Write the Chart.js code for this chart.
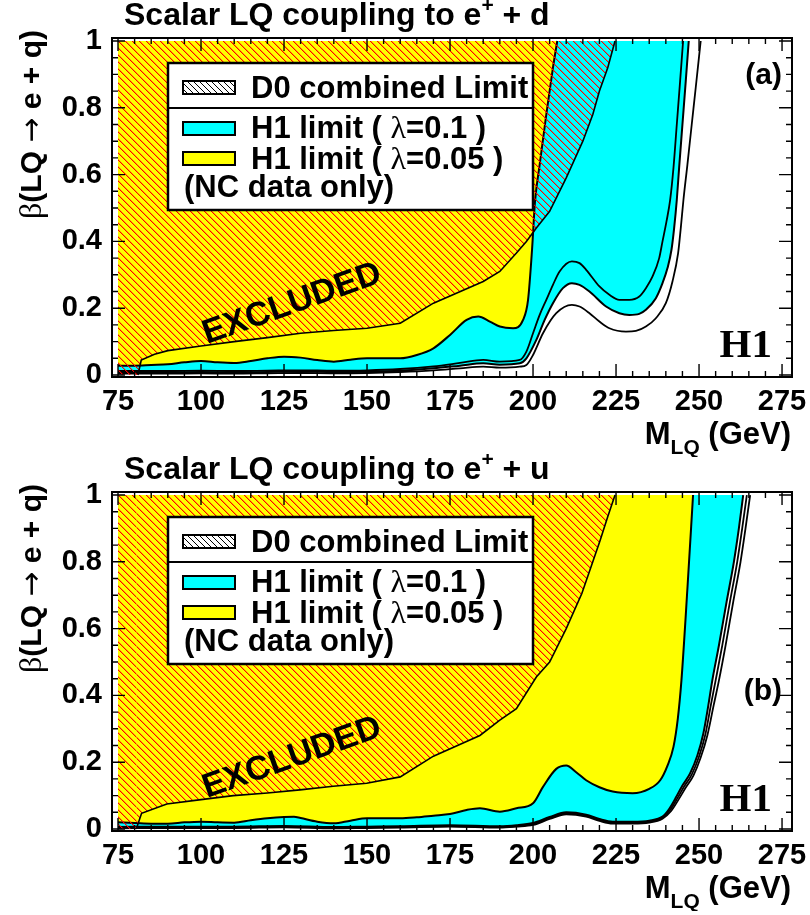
<!DOCTYPE html>
<html><head><meta charset="utf-8">
<script src="https://cdn.jsdelivr.net/npm/chart.js@4.4.1/dist/chart.umd.min.js"></script>
<style>
html,body{margin:0;padding:0;background:#fff;}
#wrap{position:relative;width:810px;height:915px;overflow:hidden;background:#fff;}
canvas{position:absolute;left:0;}
#ca{top:0}
#cb{top:454px}
</style></head><body>
<div id="wrap"><canvas id="ca" width="810" height="457"></canvas><canvas id="cb" width="810" height="457"></canvas></div>
<script>
// ---- axis ticks ----
const xTicks=[75,100,125,150,175,200,225,250,275];
const yTicks=[0,0.2,0.4,0.6,0.8,1];
const yTickLabels=['0','0.2','0.4','0.6','0.8','1'];

// ---- panel (a): e+ + d ----
const aD0M=[75,81,82,86,90,100,110,120,130,140,150,160,170,185,190,195,198,201,205,210,215,218,220,222.5,224.7];
const aD0B=[0,0,0.045,0.062,0.073,0.087,0.1,0.112,0.125,0.133,0.14,0.155,0.215,0.28,0.31,0.365,0.4,0.44,0.49,0.59,0.70,0.78,0.85,0.92,1.0];
const aYelM=[75,80,85,90,95,100,105,110,115,120,125,130,135,140,145,150,155,160,165,170,175,180,183.5,187,190,194,197,198.5,199.7,200.6,202,204,206,207.3];
const aYelB=[0.028,0.028,0.03,0.032,0.038,0.042,0.038,0.036,0.042,0.05,0.055,0.052,0.045,0.04,0.046,0.05,0.05,0.05,0.06,0.08,0.12,0.165,0.175,0.16,0.145,0.14,0.165,0.225,0.375,0.52,0.63,0.78,0.92,1.0];
const aCyM=[75,90,100,110,120,130,140,150,160,170,178,185,190,196,198,201,203.5,206,209,211.7,214,217,222,226,229,232,234,237,239,240.5,241.7,242.5,243.3,244,245,246,246.9];
const aCyB=[0.008,0.008,0.009,0.008,0.009,0.01,0.009,0.01,0.013,0.02,0.028,0.035,0.031,0.035,0.05,0.105,0.165,0.215,0.26,0.275,0.27,0.25,0.205,0.185,0.18,0.183,0.195,0.23,0.275,0.32,0.375,0.44,0.524,0.62,0.75,0.88,1.0];
const aL1M=[75,90,100,110,120,130,140,150,160,170,178,185,190,196,198,200,202,204,206,208,211.7,214,216,220,223,226,229,232,234,236,238,239,240.2,241.3,242.3,243.3,244.3,245.2];
const aL1B=[0.012,0.012,0.013,0.012,0.013,0.014,0.013,0.014,0.018,0.026,0.036,0.045,0.04,0.045,0.07,0.125,0.18,0.225,0.27,0.31,0.34,0.335,0.315,0.265,0.24,0.225,0.225,0.235,0.26,0.295,0.35,0.4,0.46,0.524,0.62,0.75,0.88,1.0];
const aL3M=[75,90,100,110,120,130,140,150,160,170,178,185,190,196,198,200,203,207,211.7,214,217,220,223,228,231,234,237,240,242,243.7,244.5,245.3,246.5,247.8,249,250.5];
const aL3B=[0.004,0.004,0.005,0.004,0.005,0.006,0.005,0.006,0.009,0.014,0.02,0.025,0.022,0.025,0.03,0.06,0.125,0.185,0.21,0.205,0.185,0.16,0.14,0.13,0.132,0.145,0.17,0.215,0.28,0.365,0.44,0.524,0.63,0.75,0.86,1.0];

// ---- panel (b): e+ + u ----
const bD0M=[75,80.5,82.1,89.7,100,109.7,120,129.8,139.8,149.9,160,170,184,190,195,201,205,210,214.7,218,220.2,222.5,224.7];
const bD0B=[0,0,0.047,0.075,0.088,0.1,0.108,0.117,0.128,0.137,0.156,0.218,0.28,0.326,0.36,0.455,0.5,0.6,0.705,0.8,0.864,0.935,1.0];
const bYelM=[75,80,85,90,95,100,105,110,115,120,125,128,130,135,140,145,150,155,160,165,170,175,180,184,190,195,200,203,207,210,213,216,220,224,230,235,238.3,240.5,242.3,243.6,244.7,246.5,248.2];
const bYelB=[0.02,0.018,0.016,0.016,0.02,0.022,0.02,0.019,0.026,0.032,0.036,0.037,0.033,0.022,0.017,0.025,0.032,0.032,0.032,0.035,0.04,0.045,0.057,0.062,0.052,0.062,0.077,0.126,0.18,0.19,0.17,0.146,0.125,0.112,0.107,0.12,0.146,0.19,0.246,0.33,0.445,0.72,1.0];
const bCyM=[75,90,100,110,125,140,150,160,175,190,195,200,205,210,216,220,224,230,235,239,241,243.2,245,247.3,249.5,251.3,252.8,254,256,258.3,260.5,262,263.3];
const bCyB=[0.006,0.007,0.007,0.007,0.009,0.006,0.007,0.008,0.011,0.008,0.011,0.018,0.036,0.05,0.043,0.03,0.022,0.022,0.025,0.037,0.06,0.097,0.13,0.166,0.22,0.286,0.37,0.445,0.55,0.68,0.8,0.9,1.0];
const bL1M=[75,90,100,110,125,140,150,160,175,190,195,200,205,210,216,220,224,230,235,239,241.3,243.6,245.5,247.8,250,251.9,253.6,255,257,259.3,261.5,263,264.4];
const bL1B=[0.004,0.005,0.005,0.005,0.007,0.004,0.005,0.006,0.009,0.006,0.009,0.015,0.033,0.047,0.04,0.027,0.019,0.019,0.022,0.034,0.057,0.094,0.127,0.163,0.217,0.283,0.373,0.445,0.55,0.68,0.8,0.9,1.0];
const bL3M=[75,90,100,110,125,140,150,160,175,190,195,200,205,210,216,220,224,230,235,239,241.6,244,246,248.3,250.5,252.5,254.4,256,258,260.3,262.5,264,265.4];
const bL3B=[0.002,0.003,0.003,0.003,0.005,0.002,0.003,0.004,0.007,0.004,0.007,0.012,0.03,0.044,0.037,0.024,0.016,0.016,0.019,0.031,0.054,0.091,0.124,0.16,0.214,0.28,0.37,0.445,0.55,0.68,0.8,0.9,1.0];

const SANS='"Liberation Sans", Arial, Helvetica, sans-serif';
const SERIF='"Liberation Serif", "Times New Roman", serif';
Chart.defaults.font.family=SANS;

function pts(M,B){return M.map((m,i)=>({x:m,y:B[i]}));}

function hatchPattern(ctx,color,step){
  const c=document.createElement('canvas');c.width=step;c.height=step;
  const g=c.getContext('2d');g.fillStyle=color;
  for(let i=0;i<step;i++){g.fillRect(i,i,1,1);}
  g.globalAlpha=0.35;
  for(let i=0;i<step;i++){g.fillRect((i+1)%step,i,1,1);}
  return ctx.createPattern(c,'repeat');
}

function rich(ctx,x,y,parts){
  let cx=x;
  for(const p of parts){ctx.font=p[1];ctx.fillText(p[0],cx,y+(p[2]||0));cx+=ctx.measureText(p[0]).width;}
  return cx-x;
}
function richWidth(ctx,parts){let w=0;for(const p of parts){ctx.font=p[1];w+=ctx.measureText(p[0]).width;}return w;}

function makeDecor(P){
  return {id:'decor'+P.tag, afterDatasetsDraw(chart){
    const ctx=chart.ctx, A=chart.chartArea, xs=chart.scales.x, ys=chart.scales.y;
    ctx.save();
    ctx.fillStyle='#000';ctx.textAlign='left';ctx.textBaseline='alphabetic';
    // legend box
    ctx.fillStyle='#fff';ctx.fillRect(168,63,365,147);
    ctx.strokeStyle='#000';ctx.lineWidth=2.5;ctx.strokeRect(168,63,365,147);
    ctx.lineWidth=2;ctx.beginPath();ctx.moveTo(168,108);ctx.lineTo(533,108);ctx.stroke();
    // D0 swatch
    ctx.save();ctx.beginPath();ctx.rect(183,81,52,13);ctx.clip();
    ctx.strokeStyle='#000';ctx.lineWidth=1;ctx.beginPath();
    for(let k=-20;k<70;k+=6){ctx.moveTo(183+k,81);ctx.lineTo(183+k+13,94);}
    ctx.stroke();ctx.restore();
    ctx.lineWidth=2;ctx.strokeRect(183,81,52,13);
    ctx.fillStyle='#00ffff';ctx.fillRect(183,122,52,13);ctx.strokeRect(183,122,52,13);
    ctx.fillStyle='#ffff00';ctx.fillRect(183,152,52,13);ctx.strokeRect(183,152,52,13);
    ctx.fillStyle='#000';
    const LF='bold 31px '+SANS, LG='32px '+SERIF;
    ctx.font=LF;ctx.fillText('D0 combined Limit',251,98);
    rich(ctx,251,138,[['H1 limit ( ',LF],['\u03bb',LG],['=0.1 )',LF]]);
    rich(ctx,251,169,[['H1 limit ( ',LF],['\u03bb',LG],['=0.05 )',LF]]);
    ctx.font=LF;ctx.fillText('(NC data only)',184,197);
    // title
    rich(ctx,124,25,[['Scalar LQ coupling to e','bold 32px '+SANS],['+','bold 21px '+SANS,-13],[' + '+P.q,'bold 32px '+SANS]]);
    // panel label
    ctx.font='bold 30px '+SANS;ctx.textAlign='right';ctx.fillText(P.label,782,P.labelY);
    // H1
    ctx.font='bold 41px '+SERIF;ctx.fillText('H1',772,357);
    // EXCLUDED
    ctx.save();ctx.translate(292,304);ctx.rotate(-19.5*Math.PI/180);
    ctx.textAlign='center';ctx.textBaseline='middle';ctx.font='bold 34px '+SANS;ctx.fillText('EXCLUDED',0,0);ctx.restore();
    // x title
    ctx.textAlign='left';
    const xt=[['M','bold 31px '+SANS],['LQ','bold 21px '+SANS,10],[' (GeV)','bold 31px '+SANS]];
    rich(ctx,791-richWidth(ctx,xt),444,xt);
    // y title (rotated)
    const yt=[['\u03b2','32px '+SERIF],['(LQ ','bold 30px '+SANS],['\u2192','30px "DejaVu Sans", sans-serif'],[' e + q)','bold 30px '+SANS]];
    ctx.save();ctx.translate(30,30);ctx.rotate(-Math.PI/2);
    rich(ctx,-richWidth(ctx,yt),11,yt);ctx.restore();
    // ticks
    ctx.strokeStyle='#000';ctx.lineWidth=1.4;ctx.beginPath();
    for(let v=75;v<=275;v+=5){
      const px=xs.getPixelForValue(v);const L=((v-75)%25===0)?13:6;
      ctx.moveTo(px,A.bottom);ctx.lineTo(px,A.bottom-L);
      ctx.moveTo(px,A.top);ctx.lineTo(px,A.top+L);
    }
    for(let k=0;k<=20;k++){
      const py=ys.getPixelForValue(k*0.05);const L=(k%4===0)?13:6;
      ctx.moveTo(A.left,py);ctx.lineTo(A.left+L,py);
      ctx.moveTo(A.right,py);ctx.lineTo(A.right-L,py);
    }
    ctx.stroke();
    // frame
    ctx.lineWidth=2;ctx.strokeRect(A.left,A.top,A.right-A.left,A.bottom-A.top);
    ctx.restore();
  }};
}

function makeChart(id,P){
  const cv=document.getElementById(id);const ctx=cv.getContext('2d');
  const pat=hatchPattern(ctx,'#ff0000',7);
  const mono={cubicInterpolationMode:'monotone',pointRadius:0};
  return new Chart(ctx,{
    type:'line',
    data:{datasets:[
      {label:'D0',data:pts(P.d0M,P.d0B),fill:{value:1},backgroundColor:pat,borderColor:'#000',borderWidth:1.6,tension:0,pointRadius:0,order:0,
        segment:{borderColor:c=>c.p0DataIndex===0?'rgba(0,0,0,0)':'#000'}},
      Object.assign({label:'H1 lambda=0.05',data:pts(P.yM,P.yB),fill:{value:1},backgroundColor:'#ffff00',borderColor:'#000',borderWidth:2,order:1},mono),
      Object.assign({label:'line3',data:pts(P.l3M,P.l3B),fill:false,borderColor:'#000',borderWidth:1.8,order:2},mono),
      Object.assign({label:'line1',data:pts(P.l1M,P.l1B),fill:false,borderColor:'#000',borderWidth:1.8,order:3},mono),
      Object.assign({label:'H1 lambda=0.1',data:pts(P.cM,P.cB),fill:{value:1},backgroundColor:'#00ffff',borderColor:'#000',borderWidth:2,order:4},mono)
    ]},
    options:{
      responsive:false,animation:false,devicePixelRatio:1,
      layout:{padding:{left:0,right:18,top:38,bottom:0}},
      plugins:{legend:{display:false},tooltip:{enabled:false},title:{display:false}},
      scales:{
        x:{type:'linear',min:73.19,max:278,grid:{display:false,drawTicks:false},border:{display:false},
          afterBuildTicks:s=>{s.ticks=xTicks.map(v=>({value:v}));},
          afterFit:s=>{s.height=80;s.paddingLeft=0;s.paddingRight=0;},
          ticks:{padding:8,autoSkip:false,maxRotation:0,minRotation:0,color:'#000',font:{size:29,weight:'bold'},callback:(v,i)=>String(xTicks[i])}},
        y:{type:'linear',min:-0.006,max:1.009,grid:{display:false,drawTicks:false},border:{display:false},
          afterBuildTicks:s=>{s.ticks=yTicks.map(v=>({value:v}));},
          afterFit:s=>{s.width=112;s.paddingTop=0;s.paddingBottom=0;},
          ticks:{padding:10,autoSkip:false,color:'#000',font:{size:29,weight:'bold'},callback:(v,i)=>yTickLabels[i]}}
      }
    },
    plugins:[makeDecor(P)]
  });
}

makeChart('ca',{tag:'a',q:'d',label:'(a)',labelY:84,d0M:aD0M,d0B:aD0B,yM:aYelM,yB:aYelB,cM:aCyM,cB:aCyB,l1M:aL1M,l1B:aL1B,l3M:aL3M,l3B:aL3B});
makeChart('cb',{tag:'b',q:'u',label:'(b)',labelY:246,d0M:bD0M,d0B:bD0B,yM:bYelM,yB:bYelB,cM:bCyM,cB:bCyB,l1M:bL1M,l1B:bL1B,l3M:bL3M,l3B:bL3B});
</script>
</body></html>
